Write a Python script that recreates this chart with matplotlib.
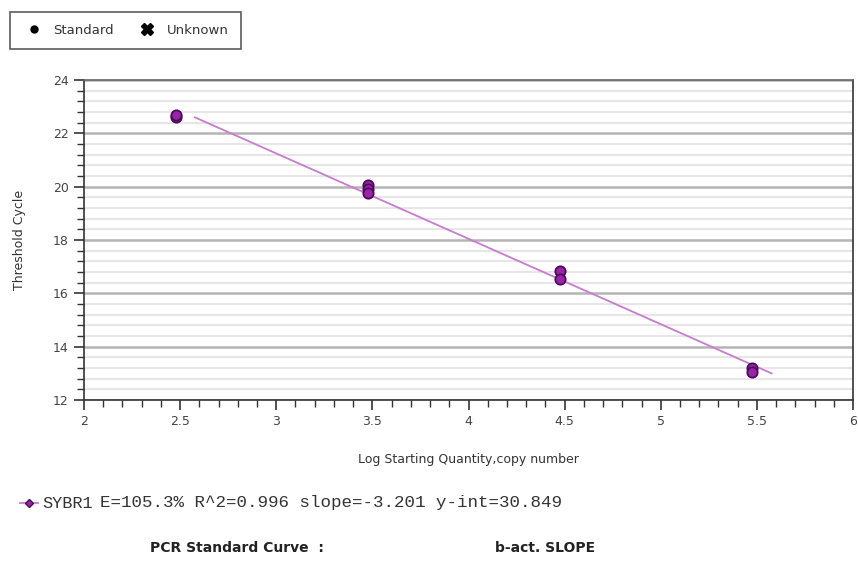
import matplotlib
matplotlib.use("Agg")
import matplotlib.pyplot as plt
import numpy as np
from matplotlib.ticker import MultipleLocator, FuncFormatter
from matplotlib.lines import Line2D

# Data
log_qty = [2.477, 2.477, 3.477, 3.477, 3.477, 4.477, 4.477, 5.477, 5.477]
ct_values = [22.6, 22.68, 20.05, 19.9, 19.75, 16.82, 16.55, 13.2, 13.05]
slope = -3.201
intercept = 30.849
fit_range = [2.577, 5.577]
x_ticks = [2, 2.5, 3, 3.5, 4, 4.5, 5, 5.5, 6]
y_ticks = [12, 14, 16, 18, 20, 22, 24]
stats_text = "E=105.3% R^2=0.996 slope=-3.201 y-int=30.849"
series_name = "SYBR1"
legend_labels = ["Standard", "Unknown"]

W, H = 858, 564
fig = plt.figure(figsize=(W / 100, H / 100), dpi=100)
ax = fig.add_axes([84 / W, 1 - 400 / H, (853 - 84) / W, (400 - 80) / H])

line_color = "#c77ccf"
face = "#9a24a8"
edge = "#4d0a5c"

fx = np.array(fit_range)
ax.plot(fx, slope * fx + intercept, color=line_color, lw=1.3, zorder=3)
ax.scatter(log_qty, ct_values, s=55, c=face, edgecolors=edge, linewidths=1.3, zorder=4)

ax.set_xlim(2, 6)
ax.set_ylim(12, 24)
ax.set_xticks(x_ticks)
ax.set_yticks(y_ticks)
ax.xaxis.set_minor_locator(MultipleLocator(0.1))
ax.yaxis.set_minor_locator(MultipleLocator(0.4))
ax.xaxis.set_major_formatter(FuncFormatter(lambda v, p: f"{v:g}"))

ax.grid(axis="y", which="minor", color="#e6e6e6", lw=1.5, zorder=0)
ax.grid(axis="y", which="major", color="#b4b4b4", lw=1.8, zorder=1)
ax.set_axisbelow(True)

ax.tick_params(axis="both", which="major", direction="out", length=7, width=1.2,
               color="#333333", labelsize=9, labelcolor="#444444", pad=4)
ax.tick_params(axis="both", which="minor", direction="out", length=5, width=1.0,
               color="#333333")
for s in ax.spines.values():
    s.set_color("#333333")
    s.set_linewidth(1.2)
ax.spines["top"].set_color("#666666")

ax.set_xlabel("Log Starting Quantity,copy number", fontsize=9, color="#333333", labelpad=18)
ax.set_ylabel("Threshold Cycle", fontsize=9, color="#333333", labelpad=19)

# Top legend box
handles = [Line2D([], [], marker="o", ls="none", color="black", markersize=5),
           Line2D([], [], marker="X", ls="none", color="black", markersize=8)]
leg = fig.legend(handles, legend_labels, loc="upper left",
                 bbox_to_anchor=(10 / W, 1 - 12 / H), borderaxespad=0, ncol=2,
                 frameon=True, fancybox=False, edgecolor="#333333",
                 handlelength=1.8, handletextpad=0.6, columnspacing=1.6,
                 borderpad=0.9,
                 prop={"family": "DejaVu Sans", "size": 9.5})
leg.get_frame().set_linewidth(1.2)
for t in leg.get_texts():
    t.set_color("#333333")

# Series stats line
fig.add_artist(Line2D([20 / W, 38 / W], [1 - 503 / H, 1 - 503 / H], color=line_color,
                      lw=1.3))
fig.add_artist(Line2D([29 / W], [1 - 503 / H], marker="D", color=face,
                      markeredgecolor=edge, markersize=4, ls="none"))
fig.text(42 / W, 1 - 503 / H, series_name, fontsize=12.2, family="Liberation Mono",
         va="center", color="#333333")
fig.text(100 / W, 1 - 503 / H, stats_text, fontsize=12.6, family="Liberation Mono",
         va="center", color="#333333")

fig.text(150 / W, 1 - 548 / H, "PCR Standard Curve  :", fontsize=10, fontweight="bold",
         va="center", color="#222222")
fig.text(495 / W, 1 - 548 / H, "b-act. SLOPE", fontsize=10, fontweight="bold",
         va="center", color="#222222")

fig.savefig("out.png", dpi=100)
